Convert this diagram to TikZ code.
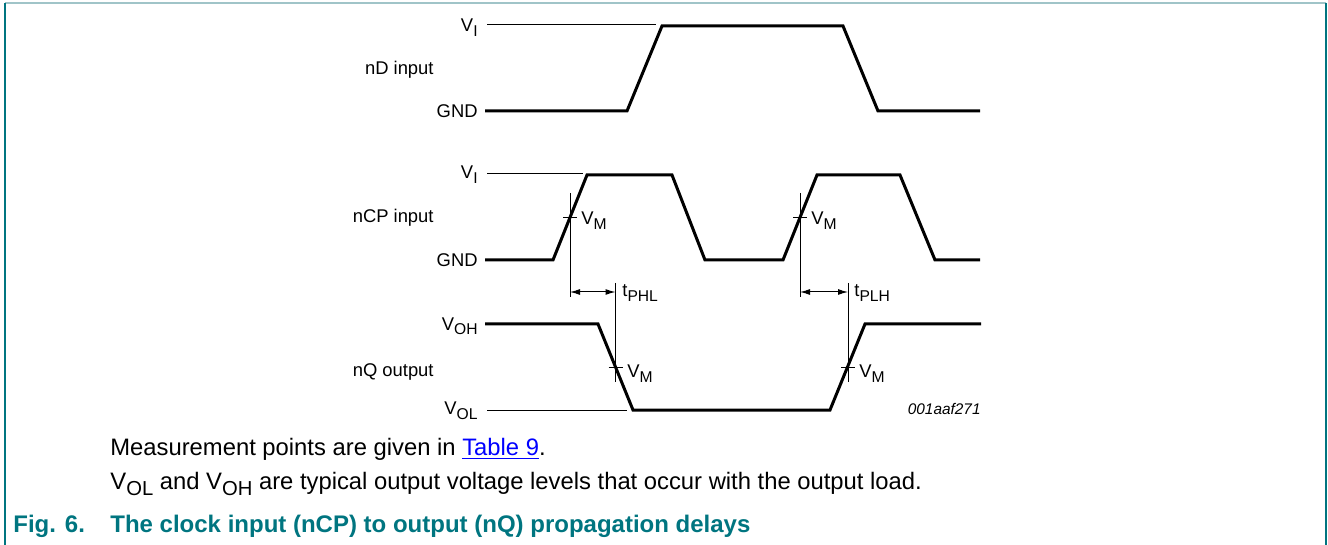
\documentclass[tikz,border=0pt]{standalone}
\usepackage{fontspec}
\setmainfont{Liberation Sans}
\usetikzlibrary{arrows.meta}

\definecolor{nxpteal}{RGB}{0,117,128}
\definecolor{framelight}{RGB}{160,196,200}
\definecolor{linkblue}{RGB}{0,0,255}
\newcommand{\lo}[1]{\raisebox{-0.27em}{\scalebox{0.85}{#1}}}

\begin{document}
\begin{tikzpicture}[x=0.5pt,y=-0.5pt,
    wave/.style={line width=1.5pt,line join=miter},
    guide/.style={line width=0.5pt},
    lbl/.style={inner sep=0pt,font=\fontsize{9.2}{11}\selectfont},
    dimline/.style={line width=0.5pt,{Latex[length=5pt,width=3pt]}-{Latex[length=5pt,width=3pt]}},
    note/.style={inner sep=0pt,anchor=base west,font=\fontsize{11.9}{14}\selectfont},
    capt/.style={note,text=nxpteal,font=\fontsize{12}{14}\selectfont\bfseries}]
    \useasboundingbox (0,0) rectangle (1328,545);

    % frame
    \draw[framelight,line width=1pt] (5,3) -- (1326,3);
    \draw[nxpteal,line width=1pt] (5,3) -- (5,545);
    \draw[nxpteal,line width=1pt] (1326,3) -- (1326,545);

    % nD input
    \node[lbl,anchor=base east] (viD) at (478,32) {V\lo{I}};
    \node[lbl,anchor=base east] (inD) at (434,75) {nD input};
    \node[lbl,anchor=base east] (gndD) at (478,118) {GND};
    \draw[guide] (487,25) -- (656,25);
    \draw[wave] (485,111) -- (627,111) -- (662,26) -- (843,26) -- (878,111) -- (980,111);

    % nCP input
    \node[lbl,anchor=base east] (viCP) at (478,179) {V\lo{I}};
    \node[lbl,anchor=base east] (inCP) at (434,223) {nCP input};
    \node[lbl,anchor=base east] (gndCP) at (478,267) {GND};
    \draw[guide] (487,174) -- (583,174);
    \draw[wave] (485,260) -- (553,260) -- (587,175) -- (672,175) -- (705,260)
        -- (783,260) -- (817,175) -- (900,175) -- (935,260) -- (980,260);

    % nQ output
    \node[lbl,anchor=base east] (voh) at (478,330) {V\lo{OH}};
    \node[lbl,anchor=base east] (outQ) at (434,376) {nQ output};
    \node[lbl,anchor=base east] (vol) at (478,415) {V\lo{OL}};
    \draw[guide] (487,410) -- (627,410);
    \draw[wave] (485,324) -- (598,324) -- (633,410) -- (830,410) -- (865,324) -- (981,324);
    \node[lbl,anchor=base east,font=\fontsize{7.7}{9}\selectfont\itshape] (figid) at (981,415) {001aaf271};

    % measurement points
    \coordinate (mA) at (570,217.5);
    \coordinate (mB) at (800,217.5);
    \coordinate (mC) at (615.5,367);
    \coordinate (mD) at (848,367);
    \foreach \m in {mA,mB,mC,mD}
        \draw[guide] ([xshift=-3.5pt]\m) -- ([xshift=3.5pt]\m);
    \draw[guide] (570,193) -- (570,297);
    \draw[guide] (800,193) -- (800,297);
    \draw[guide] (615.5,283) -- (615.5,382);
    \draw[guide] (848,283) -- (848,382);
    \node[lbl,anchor=base west] (vmA) at (581,224.5) {V\lo{M}};
    \node[lbl,anchor=base west] (vmB) at (811,224.5) {V\lo{M}};
    \node[lbl,anchor=base west] (vmC) at (627,378) {V\lo{M}};
    \node[lbl,anchor=base west] (vmD) at (859,378) {V\lo{M}};

    % delays
    \draw[dimline] (570,292) -- (615.5,292);
    \draw[dimline] (800,292) -- (848,292);
    \node[lbl,anchor=base west] (tphl) at (622,297) {t\lo{PHL}};
    \node[lbl,anchor=base west] (tplh) at (854,297) {t\lo{PLH}};

    % notes and caption
    \node[note] (meas) at (110,455) {Measurement points are given in \textcolor{linkblue}{\underline{Table 9}}.};
    \node[note] (levels) at (110,489) {V\lo{OL} and V\lo{OH} are typical output voltage levels that occur with the output load.};
    \node[capt] (fignum) at (13,532) {Fig. 6.};
    \node[capt] (figtitle) at (110,532) {The clock input (nCP) to output (nQ) propagation delays};
\end{tikzpicture}
\end{document}
